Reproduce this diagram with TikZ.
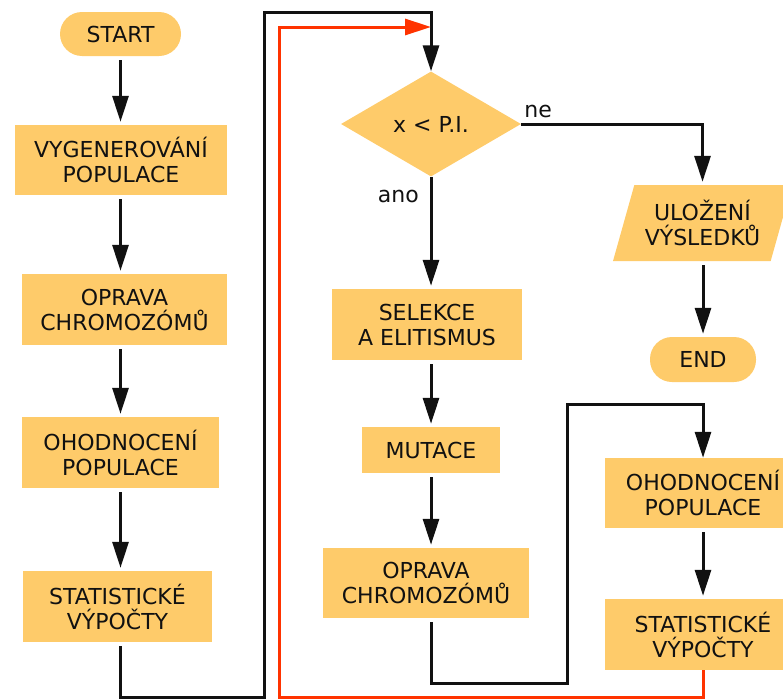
\documentclass[tikz,border=0pt]{standalone}
\usepackage{fontspec}
\setmainfont{DejaVu Sans}
\usepackage{tikz}
\usepackage{xcolor}
\usetikzlibrary{arrows.meta,positioning,shapes.geometric}
\definecolor{ink}    {HTML}{111111}
\definecolor{boxfill}{HTML}{FECB6A}
\definecolor{back}   {HTML}{FF3300}
\tikzset{
  box/.style      ={fill=boxfill, draw=none, align=center, inner sep=0pt,
                    text=ink, font=\fontsize{22}{25}\selectfont},
  termbox/.style  ={box, rounded corners=22pt},
  decbox/.style   ={box, diamond, minimum width=180pt, minimum height=105pt},
  iobox/.style    ={box, trapezium, trapezium left angle=65,
                    trapezium right angle=115, trapezium stretches body},
  arr/.style      ={-{Triangle[length=26pt,width=16pt]}, line width=3pt,
                    draw=ink, shorten <=4pt, shorten >=3pt},
  backarr/.style  ={-{Triangle[length=26pt,width=16pt]}, line width=3pt,
                    draw=back},
  note/.style     ={font=\fontsize{22}{25}\selectfont, text=ink, inner sep=0pt},
}
\begin{document}
\begin{tikzpicture}[x=1pt,y=-1pt]
  \clip (0,0) rectangle (783,699);
  % left column
  \node[termbox, minimum width=121pt, minimum height=44pt] (start) at (120.5,34) {START};
  \node[box, minimum width=212pt, minimum height=70pt] (gen) at (121,160) {VYGENEROVÁNÍ\\POPULACE};
  \node[box, minimum width=205pt, minimum height=71pt] (fix1) at (124.5,309.5) {OPRAVA\\CHROMOZÓMŮ};
  \node[box, minimum width=197pt, minimum height=71pt] (eval1) at (120.5,452.5) {OHODNOCENÍ\\POPULACE};
  \node[box, minimum width=189pt, minimum height=71pt] (stat1) at (117.5,606.5) {STATISTICKÉ\\VÝPOČTY};
  % middle column
  \node[decbox] (dec) at (431,124) {x < P.I.};
  \node[box, minimum width=190pt, minimum height=71pt] (sel) at (427,324.5) {SELEKCE\\A ELITISMUS};
  \node[box, minimum width=138pt, minimum height=46pt] (mut) at (431,450) {MUTACE};
  \node[box, minimum width=206pt, minimum height=70pt] (fix2) at (426,583) {OPRAVA\\CHROMOZÓMŮ};
  % right column
  \node[iobox, minimum width=179pt, minimum height=76pt] (save) at (702.5,223) {ULOŽENÍ\\VÝSLEDKŮ};
  \node[termbox, minimum width=106pt, minimum height=45pt] (end) at (703,359.5) {END};
  \node[box, minimum width=196pt, minimum height=70pt] (eval2) at (703,493) {OHODNOCENÍ\\POPULACE};
  \node[box, minimum width=196pt, minimum height=71pt] (stat2) at (703,634.5) {STATISTICKÉ\\VÝPOČTY};

  \node[note, above right=6pt and 3pt of dec.east, anchor=south west] (ne) {ne};
  \node[note, below left=13pt and 12pt of dec.south, anchor=north east] (ano) {ano};

  % loop corners
  \coordinate (lb) at (264,697);
  \coordinate (lt) at (264,12);
  \coordinate (rb) at (279,697);
  \coordinate (rt) at (279,27);
  \coordinate (mb) at (567,683);
  \coordinate (mt) at (567,404);

  \draw[arr] (start.south) -- (start.south |- gen.north);
  \draw[arr] (gen.south -| start.south) -- (fix1.north -| start.south);
  \draw[arr] (fix1.south -| start.south) -- (eval1.north -| start.south);
  \draw[arr] (eval1.south -| start.south) -- (stat1.north -| start.south);
  \draw[arr, shorten >=0pt] (stat1.south -| start.south) |- (lb) -- (lt) -| (dec.north);

  \draw[arr, shorten <=0pt] (dec.south) -- (dec.south |- sel.north);
  \draw[arr] (sel.south -| dec.south) -- (mut.north -| dec.south);
  \draw[arr] (mut.south -| dec.south) -- (fix2.north -| dec.south);
  \draw[arr, shorten >=0pt] (fix2.south -| dec.south) |- (mb) -- (mt) -| (eval2.north);

  \draw[arr, shorten <=0pt] (dec.east) -| (save.north);
  \draw[arr] (save.south -| end.north) -- (end.north);
  \draw[arr] (eval2.south) -- (stat2.north);

  \draw[backarr] (stat2.south) |- (rb) -- (rt) -- (rt -| dec.north);
\end{tikzpicture}
\end{document}
